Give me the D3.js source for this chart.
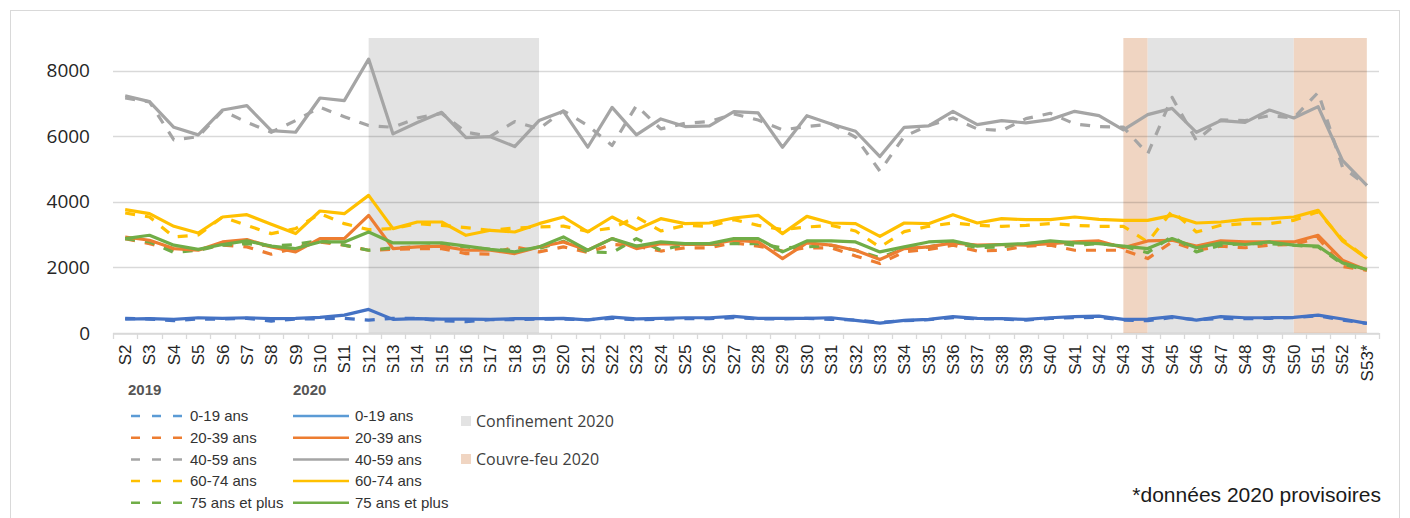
<!DOCTYPE html>
<html>
<head>
<meta charset="utf-8">
<script src="https://cdn.jsdelivr.net/npm/d3@7"></script>
<style>
  body { margin: 0; background: #fff; }
  svg { display: block; }
</style>
</head>
<body>
<svg id="chart" width="1410" height="518"></svg>
<script>
const weeks = ['S2','S3','S4','S5','S6','S7','S8','S9','S10','S11','S12','S13','S14','S15','S16','S17','S18','S19','S20','S21','S22','S23','S24','S25','S26','S27','S28','S29','S30','S31','S32','S33','S34','S35','S36','S37','S38','S39','S40','S41','S42','S43','S44','S45','S46','S47','S48','S49','S50','S51','S52','S53*'];
const yTicks = [0, 2000, 4000, 6000, 8000];
const ageGroups = ['0-19 ans', '20-39 ans', '40-59 ans', '60-74 ans', '75 ans et plus'];

// 2019 (pointillés)
const ans0_19_2019 = [446,426,375,426,426,446,365,426,436,446,395,446,446,375,345,405,405,426,426,405,446,405,416,436,436,466,436,426,446,416,395,320,375,405,466,436,426,395,446,466,476,395,375,476,405,446,436,446,466,527,395,293];
const ans20_39_2019 = [2880,2728,2525,2550,2680,2627,2403,2600,2778,2680,2525,2550,2576,2576,2423,2403,2627,2474,2627,2455,2700,2650,2500,2600,2600,2750,2650,2500,2600,2600,2350,2119,2474,2550,2680,2500,2525,2650,2680,2525,2525,2525,2271,2778,2525,2650,2600,2680,2700,2900,2030,1916];
const ans40_59_2019 = [7170,7050,5890,5990,6780,6430,6124,6480,6885,6600,6327,6276,6560,6700,6124,6000,6449,6230,6780,6330,5720,6940,6226,6397,6449,6682,6500,6196,6300,6378,5972,4938,6000,6327,6560,6226,6175,6540,6703,6378,6297,6280,5465,7190,5871,6500,6480,6630,6560,7340,5060,4500];
const ans60_74_2019 = [3661,3540,2930,2990,3539,3285,3032,3184,3641,3336,3153,3184,3336,3285,3214,3133,3204,3234,3260,3100,3200,3539,3113,3285,3255,3458,3285,3153,3234,3285,3113,2620,3092,3255,3356,3285,3255,3285,3340,3285,3255,3255,2778,3721,3082,3285,3336,3336,3438,3700,2850,2280];
const ans75_2019 = [2880,2780,2455,2525,2680,2728,2650,2700,2829,2680,2525,2600,2627,2680,2627,2550,2525,2576,2800,2474,2450,2880,2525,2700,2700,2728,2728,2600,2626,2677,2525,2300,2576,2626,2778,2600,2626,2728,2778,2677,2728,2650,2450,2950,2474,2677,2728,2728,2677,2626,2100,1916];

// 2020 (traits pleins)
const ans0_19_2020 = [426,436,416,466,446,466,436,446,476,547,720,416,436,426,426,416,436,436,446,400,487,430,446,466,466,507,446,446,446,466,385,300,385,416,497,446,436,416,466,497,517,416,426,497,395,497,466,466,476,547,426,293];
const ans20_39_2020 = [2930,2829,2576,2525,2778,2850,2627,2474,2880,2880,3590,2576,2627,2650,2525,2525,2423,2627,2778,2525,2880,2576,2728,2700,2700,2829,2778,2271,2748,2680,2525,2240,2576,2627,2748,2680,2700,2680,2728,2778,2809,2600,2809,2829,2650,2809,2778,2778,2778,2981,2221,1916];
const ans40_59_2020 = [7240,7058,6276,6044,6804,6936,6175,6124,7170,7088,8356,6074,6420,6733,5960,5990,5688,6480,6763,5668,6885,6044,6530,6297,6318,6753,6713,5668,6631,6378,6155,5384,6276,6318,6763,6358,6480,6408,6510,6763,6631,6196,6662,6854,6124,6480,6428,6804,6560,6905,5263,4502];
const ans60_74_2020 = [3763,3641,3255,3051,3539,3610,3316,3032,3721,3641,4198,3184,3387,3387,2981,3133,3082,3336,3539,3082,3539,3153,3488,3336,3356,3509,3590,3032,3559,3356,3336,2950,3356,3336,3610,3356,3488,3458,3458,3539,3468,3438,3438,3590,3356,3387,3468,3488,3539,3742,2808,2271];
const ans75_2020 = [2880,2981,2680,2550,2700,2809,2650,2576,2778,2778,3082,2748,2748,2748,2650,2550,2474,2627,2930,2525,2880,2650,2778,2728,2728,2880,2880,2474,2809,2809,2778,2474,2627,2778,2809,2650,2700,2728,2809,2748,2728,2650,2576,2880,2600,2748,2700,2778,2680,2650,2139,1936];

// périodes : début, fin, type
const periodStart = ['S12', 'S43', 'S44', 'S50'];
const periodEnd = ['S19', 'S44', 'S50', 'S53*'];
const periodType = ['conf', 'cf', 'conf', 'cf'];

const colors = ['#4472C4', '#ED7D31', '#A5A5A5', '#FFC000', '#70AD47'];
const legendColors = ['#5B9BD5', '#ED7D31', '#A5A5A5', '#FFC000', '#70AD47'];
const shade = {conf: '#E3E3E3', cf: '#F0D5C2'};

const series2019 = [ans0_19_2019, ans20_39_2019, ans40_59_2019, ans60_74_2019, ans75_2019];
const series2020 = [ans0_19_2020, ans20_39_2020, ans40_59_2020, ans60_74_2020, ans75_2020];

const svg = d3.select('#chart');
const margin = {left: 113, right: 1379, top: 38, bottom: 333};

svg.append('rect')
    .attr('x', 10.5).attr('y', 10.5)
    .attr('width', 1389).attr('height', 520)
    .attr('fill', '#fff').attr('stroke', '#d9d9d9');

const x = d3.scaleBand().domain(weeks).range([margin.left, margin.right]);
const y = d3.scaleLinear().domain([0, 9000]).range([margin.bottom, margin.top]);
const cx = d => x(d) + x.bandwidth() / 2;

// zones confinement / couvre-feu
svg.append('g').selectAll('rect')
    .data(periodStart.map((s, i) => ({s, e: periodEnd[i], t: periodType[i]})))
    .join('rect')
    .attr('x', d => cx(d.s))
    .attr('width', d => cx(d.e) - cx(d.s))
    .attr('y', y(9000))
    .attr('height', y(0) - y(9000))
    .attr('fill', d => shade[d.t]);

// grille
svg.append('g').selectAll('line')
    .data(yTicks)
    .join('line')
    .attr('x1', margin.left).attr('x2', margin.right)
    .attr('y1', d => Math.round(y(d)) + 0.5).attr('y2', d => Math.round(y(d)) + 0.5)
    .attr('stroke', 'rgba(0,0,0,0.15)')
    .attr('stroke-width', 1.3);

// axe y
const yAxis = svg.append('g')
    .attr('transform', `translate(${margin.left},0)`)
    .call(d3.axisLeft(y).tickValues(yTicks).tickSize(0).tickPadding(23).tickFormat(d3.format('d')));
yAxis.select('.domain').remove();
yAxis.selectAll('text')
    .attr('font-family', 'Open Sans, sans-serif')
    .attr('font-size', 19)
    .attr('fill', '#262626');

// axe x
const xAxis = svg.append('g')
    .attr('transform', `translate(0,${Math.round(y(0)) + 0.5})`)
    .call(d3.axisBottom(x).tickSize(0).tickPadding(0));
xAxis.select('.domain').attr('stroke', '#d9d9d9').attr('stroke-width', 1.3);
xAxis.selectAll('text')
    .attr('font-family', 'Liberation Sans, Arial, sans-serif')
    .attr('font-size', 17)
    .attr('fill', '#262626')
    .attr('text-anchor', 'end')
    .attr('dy', '0.35em')
    .attr('transform', 'translate(0,11) rotate(-90)');
svg.append('g').selectAll('line')
    .data(weeks.concat(['end']))
    .join('line')
    .attr('x1', (d, i) => Math.round(margin.left + i * x.bandwidth()) + 0.5)
    .attr('x2', (d, i) => Math.round(margin.left + i * x.bandwidth()) + 0.5)
    .attr('y1', y(0)).attr('y2', y(0) + 6)
    .attr('stroke', '#d9d9d9').attr('stroke-width', 1.3);

// courbes
const line = d3.line()
    .x((d, i) => cx(weeks[i]))
    .y(d => y(d));

svg.append('g').selectAll('path')
    .data(series2019)
    .join('path')
    .attr('d', line)
    .attr('fill', 'none')
    .attr('stroke', (d, i) => colors[i])
    .attr('stroke-width', 3.2)
    .attr('stroke-dasharray', '10,10')
    .attr('stroke-linejoin', 'round');

svg.append('g').selectAll('path')
    .data(series2020)
    .join('path')
    .attr('d', line)
    .attr('fill', 'none')
    .attr('stroke', (d, i) => colors[i])
    .attr('stroke-width', 3.2)
    .attr('stroke-linejoin', 'round');

// cadre blanc de la légende (recouvre le bas des étiquettes)
svg.append('rect')
    .attr('x', 100).attr('y', 372).attr('width', 427).attr('height', 146)
    .attr('fill', '#fff');

const legendFont = 'Liberation Sans Narrow, Arial Narrow, Liberation Sans, sans-serif';
const legend = svg.append('g').attr('font-family', legendFont).attr('font-size', 15).attr('fill', '#333');
legend.append('text').attr('x', 128).attr('y', 395).attr('font-weight', 'bold').attr('fill', '#555').text('2019');
legend.append('text').attr('x', 293).attr('y', 395).attr('font-weight', 'bold').attr('fill', '#555').text('2020');

const rows = legend.selectAll('g.row')
    .data(ageGroups)
    .join('g')
    .attr('class', 'row')
    .attr('transform', (d, i) => `translate(0,${416 + i * 21.7})`);
rows.append('line')
    .attr('x1', 131).attr('x2', 187)
    .attr('stroke', (d, i) => legendColors[i])
    .attr('stroke-width', 2.5)
    .attr('stroke-dasharray', '9,12');
rows.append('text').attr('x', 190).attr('dy', '0.35em').text(d => d);
rows.append('line')
    .attr('x1', 293).attr('x2', 349)
    .attr('stroke', (d, i) => legendColors[i])
    .attr('stroke-width', 2.5);
rows.append('text').attr('x', 355).attr('dy', '0.35em').text(d => d);

const legend2 = svg.append('g').attr('font-family', 'Open Sans, sans-serif').attr('font-size', 16).attr('fill', '#404040');
[['conf', 'Confinement 2020', 421], ['cf', 'Couvre-feu 2020', 459]].forEach(([t, label, yy]) => {
    legend2.append('rect').attr('x', 461).attr('y', yy - 5).attr('width', 10).attr('height', 10).attr('fill', shade[t]);
    legend2.append('text').attr('x', 476).attr('y', yy).attr('dy', '0.35em').text(label);
});

svg.append('text')
    .attr('x', 1381).attr('y', 502)
    .attr('text-anchor', 'end')
    .attr('font-family', 'Liberation Sans Narrow, Liberation Sans, sans-serif')
    .attr('font-size', 21)
    .attr('fill', '#1a1a1a')
    .text('*données 2020 provisoires');
</script>
</body>
</html>
